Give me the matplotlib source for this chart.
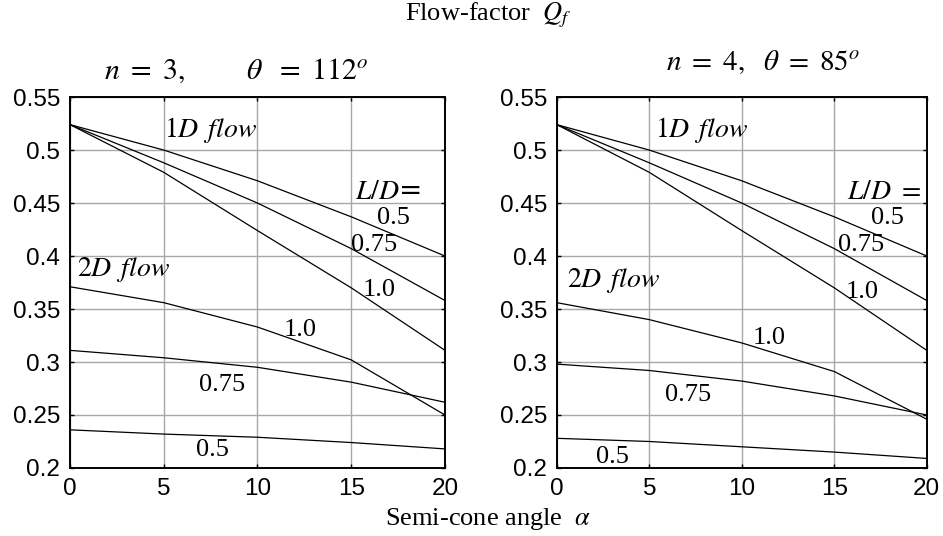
import numpy as np
import matplotlib
matplotlib.use('Agg')
import matplotlib.pyplot as plt

plt.rcParams['mathtext.fontset'] = 'stix'

alpha = [0, 5, 10, 15, 20]  # semi-cone angle, deg

# n = 3, theta = 112
q1d_n3 = {
    '0.5':  [0.524, 0.500, 0.471, 0.437, 0.400],
    '0.75': [0.524, 0.488, 0.450, 0.407, 0.358],
    '1.0':  [0.524, 0.479, 0.424, 0.370, 0.311],
}
q2d_n3 = {
    '0.5':  [0.236, 0.232, 0.229, 0.224, 0.218],
    '0.75': [0.311, 0.304, 0.295, 0.281, 0.262],
    '1.0':  [0.371, 0.356, 0.333, 0.302, 0.250],
}

# n = 4, theta = 85
q1d_n4 = {
    '0.5':  [0.524, 0.500, 0.471, 0.437, 0.400],
    '0.75': [0.524, 0.488, 0.450, 0.407, 0.358],
    '1.0':  [0.524, 0.479, 0.424, 0.370, 0.311],
}
q2d_n4 = {
    '0.5':  [0.228, 0.225, 0.220, 0.215, 0.209],
    '0.75': [0.298, 0.292, 0.282, 0.268, 0.250],
    '1.0':  [0.356, 0.340, 0.318, 0.291, 0.246],
}

yticks = [0.2, 0.25, 0.3, 0.35, 0.4, 0.45, 0.5, 0.55]
yticklabels = ['0.2', '0.25', '0.3', '0.35', '0.4', '0.45', '0.5', '0.55']
xticks = [0, 5, 10, 15, 20]

fig = plt.figure(figsize=(9.43, 5.36), dpi=100)
ax1 = fig.add_axes([0.0742, 0.1269, 0.3977, 0.692])
ax2 = fig.add_axes([0.5904, 0.1269, 0.3924, 0.692])

serif = 'Liberation Serif'
lbl = 19
ital = 20


def setup(ax):
    ax.set_xlim(0, 20)
    ax.set_ylim(0.2, 0.55)
    ax.set_xticks(xticks)
    ax.set_yticks(yticks)
    ax.set_yticklabels(yticklabels)
    ax.grid(True, color='#a8a8a8', linewidth=1.0)
    ax.set_axisbelow(True)
    ax.tick_params(direction='in', length=3, width=1, top=True, right=True,
                   labelsize=17.5, pad=7)
    for lab in ax.get_xticklabels() + ax.get_yticklabels():
        lab.set_fontfamily('Liberation Sans')
    for s in ax.spines.values():
        s.set_linewidth(1.4)


for ax, d1, d2 in [(ax1, q1d_n3, q2d_n3), (ax2, q1d_n4, q2d_n4)]:
    setup(ax)
    for k in d1:
        ax.plot(alpha, d1[k], color='black', linewidth=0.9)
    for k in d2:
        ax.plot(alpha, d2[k], color='black', linewidth=0.9)

# curve labels, n = 3
ax1.text(5.0, 0.519, r'$1D\ \,flow$', fontsize=ital, va='center')
ax1.text(15.2, 0.461, r'$L/D$=', fontsize=ital, va='center')
ax1.text(16.4, 0.436, '0.5', fontsize=lbl, family=serif, va='center')
ax1.text(15.0, 0.410, '0.75', fontsize=lbl, family=serif, va='center')
ax1.text(15.6, 0.368, '1.0', fontsize=lbl, family=serif, va='center')
ax1.text(0.35, 0.387, r'$2D\ \,flow$', fontsize=ital, va='center')
ax1.text(11.4, 0.330, '1.0', fontsize=lbl, family=serif, va='center')
ax1.text(6.9, 0.278, '0.75', fontsize=lbl, family=serif, va='center')
ax1.text(6.7, 0.217, '0.5', fontsize=lbl, family=serif, va='center')

# curve labels, n = 4
ax2.text(5.3, 0.519, r'$1D\ \,flow$', fontsize=ital, va='center')
ax2.text(15.7, 0.461, r'$L/D\ =$', fontsize=ital, va='center')
ax2.text(17.0, 0.436, '0.5', fontsize=lbl, family=serif, va='center')
ax2.text(15.2, 0.410, '0.75', fontsize=lbl, family=serif, va='center')
ax2.text(15.6, 0.366, '1.0', fontsize=lbl, family=serif, va='center')
ax2.text(0.56, 0.377, r'$2D\ \,flow$', fontsize=ital, va='center')
ax2.text(10.6, 0.323, '1.0', fontsize=lbl, family=serif, va='center')
ax2.text(5.85, 0.269, '0.75', fontsize=lbl, family=serif, va='center')
ax2.text(2.1, 0.210, '0.5', fontsize=lbl, family=serif, va='center')

# panel headings
fig.text(0.251, 0.869, r'$n\ =\ 3,\qquad\ \ \theta\ \ =\ 112^o$', fontsize=21.5,
         ha='center', va='center')
fig.text(0.809, 0.885, r'$n\ =\ 4,\ \ \theta\ =\ 85^o$', fontsize=21,
         ha='center', va='center')

fig.text(0.5175, 0.972, r'Flow-factor  $Q_f$', fontsize=19, family=serif,
         ha='center', va='center')
fig.text(0.5175, 0.032, r'Semi-cone angle  $\alpha$', fontsize=19, family=serif,
         ha='center', va='center')

fig.savefig('out.png', dpi=100)
